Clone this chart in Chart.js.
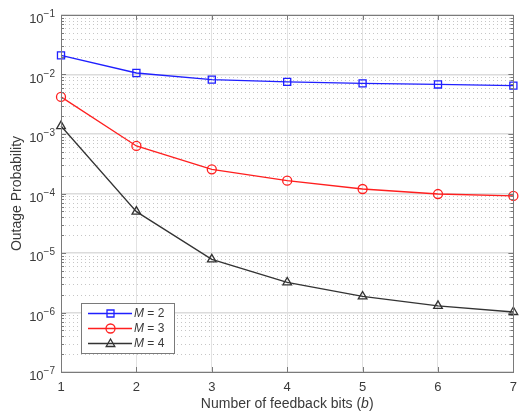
<!DOCTYPE html>
<html>
<head>
<meta charset="utf-8">
<script src="https://cdn.jsdelivr.net/npm/chart.js@4/dist/chart.umd.min.js"></script>
<style>
  html, body { margin: 0; padding: 0; background: #fff; }
  #wrap { width: 525px; height: 414px; }
</style>
</head>
<body>
<div id="wrap"><canvas id="outageChart" width="525" height="414"></canvas></div>
<script>
// feedback bits on the x axis
const bits = [1, 2, 3, 4, 5, 6, 7];
// outage probability
const outageM2 = [0.021, 0.0106, 0.0082, 0.0075, 0.0071, 0.0068, 0.0065];
const outageM3 = [4.2e-3, 6.3e-4, 2.55e-4, 1.64e-4, 1.19e-4, 9.8e-5, 9.1e-5];
const outageM4 = [1.36e-3, 4.95e-5, 7.8e-6, 3.2e-6, 1.86e-6, 1.29e-6, 1.02e-6];
const antennaCounts = ['2', '3', '4'];
// y axis decades (10^exp)
const yExponents = [-7, -6, -5, -4, -3, -2, -1];

const textColor = '#3a3a3a';
const frameColor = '#7a7a7a';
const fontFamily = '"Liberation Sans", Arial, sans-serif';

function points(vals) {
    return bits.map((b, i) => ({ x: b, y: vals[i] }));
}

// 눈금 라벨, 보조 격자, 테두리, 범례 직접 그리기
const matlabLook = {
    id: 'matlabLook',
    beforeDatasetsDraw(chart) {
        const { ctx, chartArea: a } = chart;
        const ys = chart.scales.y;
        ctx.save();
        // dotted minor grid
        ctx.strokeStyle = '#c6c6c6';
        ctx.lineWidth = 1;
        ctx.setLineDash([1, 3]);
        for (let e = yExponents[0]; e < yExponents[yExponents.length - 1]; e++) {
            for (let m = 2; m <= 9; m++) {
                const y = Math.round(ys.getPixelForValue(m * Math.pow(10, e))) + 0.5;
                ctx.beginPath();
                ctx.moveTo(a.left, y);
                ctx.lineTo(a.right, y);
                ctx.stroke();
            }
        }
        ctx.restore();
    },
    afterDraw(chart) {
        const { ctx, chartArea: a } = chart;
        const xs = chart.scales.x, ys = chart.scales.y;
        ctx.save();
        // frame
        ctx.strokeStyle = frameColor;
        ctx.lineWidth = 1;
        ctx.setLineDash([]);
        ctx.strokeRect(Math.round(a.left) + 0.5, Math.round(a.top) + 0.5,
            Math.round(a.right - a.left), Math.round(a.bottom - a.top));
        // inner ticks
        ctx.beginPath();
        bits.forEach(b => {
            const x = Math.round(xs.getPixelForValue(b)) + 0.5;
            ctx.moveTo(x, a.bottom); ctx.lineTo(x, a.bottom - 5);
            ctx.moveTo(x, a.top); ctx.lineTo(x, a.top + 5);
        });
        for (let e = yExponents[0]; e <= yExponents[yExponents.length - 1]; e++) {
            for (let m = 1; m <= 9; m++) {
                if (e === yExponents[yExponents.length - 1] && m > 1) break;
                const y = Math.round(ys.getPixelForValue(m * Math.pow(10, e))) + 0.5;
                const len = m === 1 ? 5 : 3;
                ctx.moveTo(a.left, y); ctx.lineTo(a.left + len, y);
                ctx.moveTo(a.right, y); ctx.lineTo(a.right - len, y);
            }
        }
        ctx.stroke();

        // y tick labels 10^k
        ctx.fillStyle = textColor;
        ctx.textBaseline = 'alphabetic';
        yExponents.forEach(e => {
            const y = ys.getPixelForValue(Math.pow(10, e));
            const expText = '\u2212' + Math.abs(e);
            ctx.font = '10px ' + fontFamily;
            ctx.textAlign = 'right';
            const ew = ctx.measureText(expText).width;
            ctx.fillText(expText, a.left - 6, y + 2);
            ctx.font = '13px ' + fontFamily;
            ctx.fillText('10', a.left - 6 - ew, y + 8);
        });

        // y title
        ctx.font = '14px ' + fontFamily;
        ctx.textAlign = 'center';
        ctx.textBaseline = 'middle';
        ctx.save();
        ctx.translate(17, (a.top + a.bottom) / 2);
        ctx.rotate(-Math.PI / 2);
        ctx.fillText('Outage Probability', 0, 0);
        ctx.restore();

        // x title with italic b
        const parts = [['Number of feedback bits (', ''], ['b', 'italic '], [')', '']];
        let total = 0;
        parts.forEach(p => { ctx.font = p[1] + '14px ' + fontFamily; total += ctx.measureText(p[0]).width; });
        let x0 = (a.left + a.right) / 2 - total / 2;
        ctx.textAlign = 'left';
        ctx.textBaseline = 'middle';
        parts.forEach(p => {
            ctx.font = p[1] + '14px ' + fontFamily;
            ctx.fillText(p[0], x0, 404);
            x0 += ctx.measureText(p[0]).width;
        });

        // legend
        const lx = 81, ly = 303, lw = 93, lh = 50;
        ctx.fillStyle = '#fff';
        ctx.fillRect(lx, ly, lw, lh);
        ctx.strokeStyle = frameColor;
        ctx.strokeRect(lx + 0.5, ly + 0.5, lw, lh);
        chart.data.datasets.forEach((ds, i) => {
            const ry = ly + 10.5 + i * 15;
            ctx.strokeStyle = ds.borderColor;
            ctx.lineWidth = 1.3;
            ctx.beginPath();
            ctx.moveTo(88, ry); ctx.lineTo(132, ry);
            ctx.stroke();
            drawMarker(ctx, ds.pointStyle, 110.5, ry, ds.borderColor);
            ctx.fillStyle = textColor;
            ctx.textBaseline = 'middle';
            ctx.font = 'italic 12px ' + fontFamily;
            ctx.fillText('M', 134, ry);
            const mw = ctx.measureText('M').width;
            ctx.font = '12px ' + fontFamily;
            ctx.fillText(' = ' + antennaCounts[i], 134 + mw, ry);
        });
        ctx.restore();
    }
};

function drawMarker(ctx, style, x, y, color) {
    ctx.strokeStyle = color;
    ctx.lineWidth = 1.3;
    ctx.beginPath();
    if (style === 'rect') {
        ctx.rect(x - 3.5, y - 3.5, 7, 7);
    } else if (style === 'circle') {
        ctx.arc(x, y, 4.5, 0, Math.PI * 2);
    } else {
        ctx.moveTo(x, y - 4.5);
        ctx.lineTo(x + 4.3, y + 3);
        ctx.lineTo(x - 4.3, y + 3);
        ctx.closePath();
    }
    ctx.stroke();
}

function series(vals, color, style, radius) {
    return {
        data: points(vals),
        borderColor: color,
        backgroundColor: 'transparent',
        borderWidth: 1.3,
        pointStyle: style,
        pointRadius: radius,
        pointBorderWidth: 1.3,
        pointBorderColor: color,
        pointBackgroundColor: 'transparent',
        tension: 0,
        clip: false
    };
}

new Chart(document.getElementById('outageChart'), {
    type: 'line',
    data: {
        datasets: [
            series(outageM2, '#1f1fff', 'rect', 5),
            series(outageM3, '#ff1f1f', 'circle', 4.5),
            series(outageM4, '#333333', 'triangle', 5)
        ]
    },
    options: {
        responsive: false,
        devicePixelRatio: 1,
        animation: false,
        layout: { padding: { left: 0, right: 4, top: 15, bottom: 0 } },
        plugins: { legend: { display: false }, tooltip: { enabled: false } },
        scales: {
            x: {
                type: 'linear',
                min: 1,
                max: 7,
                afterBuildTicks: scale => { scale.ticks = bits.map(b => ({ value: b })); },
                afterFit: scale => { scale.height = 42; },
                ticks: {
                    color: textColor,
                    font: { family: fontFamily, size: 13 },
                    padding: 8,
                    maxRotation: 0,
                    callback: v => String(v)
                },
                grid: { color: '#e2e2e2', lineWidth: 1, drawTicks: false },
                border: { display: false }
            },
            y: {
                type: 'logarithmic',
                min: Math.pow(10, yExponents[0]),
                max: Math.pow(10, yExponents[yExponents.length - 1]),
                afterBuildTicks: scale => { scale.ticks = yExponents.map(e => ({ value: Math.pow(10, e) })); },
                afterFit: scale => { scale.width = 61; },
                ticks: { display: false },
                grid: { color: '#dcdcdc', lineWidth: 1.5, drawTicks: false },
                border: { display: false }
            }
        }
    },
    plugins: [matlabLook]
});
</script>
</body>
</html>
